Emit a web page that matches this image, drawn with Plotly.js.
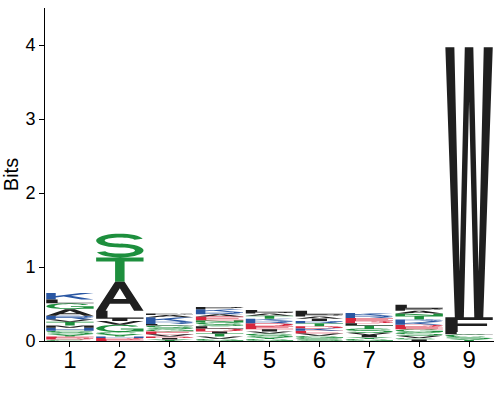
<!DOCTYPE html>
<html>
<head>
<meta charset="utf-8">
<script src="https://cdn.plot.ly/plotly-3.0.1.min.js"></script>
<style>html,body{margin:0;padding:0;background:#fff;}#chart{width:500px;height:400px;}</style>
</head>
<body>
<div id="chart"></div>
<script>
// ---- data: positions, tick labels and per-position letter stacks (bottom -> top, heights in bits)
const positions = [1, 2, 3, 4, 5, 6, 7, 8, 9];
const tickLabels = ['1', '2', '3', '4', '5', '6', '7', '8', '9'];

const pos1Letters = ['C', 'D', 'E', 'Y', 'S', 'H', 'M', 'T', 'V', 'R', 'A', 'G', 'L', 'K'];
const pos1Bits    = [0.02, 0.02, 0.02, 0.03, 0.05, 0.04, 0.03, 0.05, 0.03, 0.05, 0.09, 0.08, 0.05, 0.09];
const pos2Letters = ['E', 'D', 'H', 'Y', 'C', 'G', 'V', 'I', 'L', 'A', 'T', 'S'];
const pos2Bits    = [0.02, 0.02, 0.02, 0.03, 0.03, 0.10, 0.05, 0.03, 0.11, 0.39, 0.33, 0.32];
const pos3Letters = ['Y', 'I', 'D', 'V', 'E', 'G', 'S', 'L', 'R', 'K', 'A', 'P'];
const pos3Bits    = [0.02, 0.02, 0.02, 0.03, 0.04, 0.03, 0.05, 0.02, 0.03, 0.06, 0.03, 0.02];
const pos4Letters = ['G', 'V', 'T', 'I', 'D', 'L', 'S', 'N', 'E', 'A', 'R', 'K', 'P'];
const pos4Bits    = [0.03, 0.03, 0.04, 0.03, 0.04, 0.03, 0.05, 0.03, 0.05, 0.03, 0.03, 0.04, 0.03];
const pos5Letters = ['G', 'Y', 'S', 'V', 'I', 'E', 'D', 'R', 'K', 'T', 'A', 'P', 'L'];
const pos5Bits    = [0.03, 0.02, 0.05, 0.03, 0.03, 0.04, 0.04, 0.03, 0.03, 0.04, 0.03, 0.02, 0.03];
const pos6Letters = ['S', 'G', 'V', 'E', 'K', 'D', 'T', 'R', 'I', 'A', 'P', 'L'];
const pos6Bits    = [0.04, 0.03, 0.03, 0.04, 0.03, 0.03, 0.04, 0.03, 0.03, 0.03, 0.03, 0.05];
const pos7Letters = ['G', 'Y', 'I', 'V', 'S', 'T', 'L', 'D', 'E', 'R', 'K'];
const pos7Bits    = [0.03, 0.02, 0.03, 0.03, 0.06, 0.04, 0.03, 0.03, 0.04, 0.03, 0.04];
const pos8Letters = ['I', 'C', 'V', 'S', 'G', 'E', 'D', 'K', 'R', 'T', 'N', 'A', 'P', 'L'];
const pos8Bits    = [0.02, 0.02, 0.03, 0.05, 0.04, 0.03, 0.03, 0.04, 0.03, 0.05, 0.03, 0.04, 0.03, 0.05];
const pos9Letters = ['Y', 'S', 'C', 'L', 'F', 'W'];
const pos9Bits    = [0.03, 0.02, 0.04, 0.03, 0.20, 3.65];

const stackLetters = [pos1Letters, pos2Letters, pos3Letters, pos4Letters, pos5Letters, pos6Letters, pos7Letters, pos8Letters, pos9Letters];
const stackBits    = [pos1Bits, pos2Bits, pos3Bits, pos4Bits, pos5Bits, pos6Bits, pos7Bits, pos8Bits, pos9Bits];

// ---- style: chemistry colour scheme
const GREEN = '#1d8f3d', BLUE = '#2a57a3', RED = '#d7263d', BLACK = '#1f1f1f';
const colorGroups = { G: GREEN, S: GREEN, T: GREEN, Y: GREEN, C: GREEN, N: GREEN, Q: GREEN,
                      K: BLUE, R: BLUE, H: BLUE, D: RED, E: RED };
function colorOf(L) { return colorGroups[L] || BLACK; }
const LETTER_W = 0.95;
const FONT = 'Liberation Sans, Arial, Helvetica, sans-serif';

// ---- glyph outlines in a unit box
function arcPts(cx, cy, rx, ry, a0, a1, n) {
  const pts = [];
  n = n || 28;
  for (let i = 0; i <= n; i++) {
    const a = (a0 + (a1 - a0) * i / n) * Math.PI / 180;
    pts.push([cx + rx * Math.cos(a), cy + ry * Math.sin(a)]);
  }
  return pts;
}
function sector(cx, cy, rxo, ryo, rxi, ryi, a0, a1) {
  return arcPts(cx, cy, rxo, ryo, a0, a1).concat(arcPts(cx, cy, rxi, ryi, a1, a0));
}
function rect(x0, y0, x1, y1) { return [[x0, y0], [x1, y0], [x1, y1], [x0, y1]]; }
function signedArea(p) {
  let s = 0;
  for (let i = 0; i < p.length; i++) {
    const a = p[i], b = p[(i + 1) % p.length];
    s += a[0] * b[1] - b[0] * a[1];
  }
  return s / 2;
}
function orient(p, ccw) { return (signedArea(p) > 0) === ccw ? p : p.slice().reverse(); }

const GLYPHS = {
  A: { outer: [[[0, 0], [0.2, 0], [0.29, 0.24], [0.71, 0.24], [0.8, 0], [1, 0], [0.6, 1], [0.4, 1]]],
       holes: [[[0.36, 0.4], [0.64, 0.4], [0.5, 0.78]]] },
  C: { outer: [sector(0.5, 0.5, 0.5, 0.5, 0.33, 0.36, 45, 315)] },
  D: { outer: [[[0, 0], [0, 1], [0.45, 1]].concat(arcPts(0.45, 0.5, 0.55, 0.5, 90, -90))],
       holes: [[[0.2, 0.15], [0.45, 0.15]].concat(arcPts(0.45, 0.5, 0.35, 0.35, -90, 90)).concat([[0.2, 0.85]])] },
  E: { outer: [[[0, 0], [0, 1], [1, 1], [1, 0.85], [0.22, 0.85], [0.22, 0.58], [0.9, 0.58], [0.9, 0.43], [0.22, 0.43], [0.22, 0.15], [1, 0.15], [1, 0]]] },
  F: { outer: [[[0, 0], [0, 1], [1, 1], [1, 0.82], [0.26, 0.82], [0.26, 0.58], [0.88, 0.58], [0.88, 0.41], [0.26, 0.41], [0.26, 0]]] },
  G: { outer: [sector(0.5, 0.5, 0.5, 0.5, 0.33, 0.36, 38, 358), rect(0.52, 0.35, 1, 0.5), rect(0.82, 0.08, 1, 0.5)] },
  H: { outer: [[[0, 0], [0, 1], [0.2, 1], [0.2, 0.58], [0.8, 0.58], [0.8, 1], [1, 1], [1, 0], [0.8, 0], [0.8, 0.42], [0.2, 0.42], [0.2, 0]]] },
  I: { outer: [rect(0.34, 0, 0.66, 1)] },
  K: { outer: [[[0, 0], [0, 1], [0.2, 1], [0.2, 0.55], [0.72, 1], [1, 1], [0.52, 0.58], [1, 0], [0.74, 0], [0.37, 0.45], [0.2, 0.32], [0.2, 0]]] },
  L: { outer: [[[0, 0], [0, 1], [0.24, 1], [0.24, 0.16], [1, 0.16], [1, 0]]] },
  M: { outer: [[[0, 0], [0, 1], [0.25, 1], [0.5, 0.3], [0.75, 1], [1, 1], [1, 0], [0.8, 0], [0.8, 0.7], [0.58, 0], [0.42, 0], [0.2, 0.7], [0.2, 0]]] },
  N: { outer: [[[0, 0], [0, 1], [0.2, 1], [0.8, 0.35], [0.8, 1], [1, 1], [1, 0], [0.8, 0], [0.2, 0.65], [0.2, 0]]] },
  P: { outer: [[[0, 0], [0, 1], [0.6, 1]].concat(arcPts(0.6, 0.72, 0.4, 0.28, 90, -90)).concat([[0.2, 0.44], [0.2, 0]])],
       holes: [[[0.2, 0.59], [0.6, 0.59]].concat(arcPts(0.6, 0.72, 0.22, 0.13, -90, 90)).concat([[0.2, 0.85]])] },
  Q: { outer: [arcPts(0.5, 0.5, 0.5, 0.5, 0, 359), [[0.55, 0.3], [0.72, 0.3], [1, 0], [0.82, 0]]],
       holes: [arcPts(0.5, 0.5, 0.33, 0.36, 0, 359)] },
  R: { outer: [[[0, 0], [0, 1], [0.6, 1]].concat(arcPts(0.6, 0.72, 0.4, 0.28, 90, -90)).concat([[0.2, 0.44], [0.2, 0]]),
               [[0.5, 0.46], [0.74, 0.46], [1, 0], [0.76, 0]]],
       holes: [[[0.2, 0.59], [0.6, 0.59]].concat(arcPts(0.6, 0.72, 0.22, 0.13, -90, 90)).concat([[0.2, 0.85]])] },
  S: { outer: [sector(0.5, 0.71, 0.5, 0.29, 0.32, 0.13, 15, 280),
               sector(0.5, 0.29, 0.5, 0.29, 0.32, 0.13, 100, -165)] },
  T: { outer: [[[0, 1], [1, 1], [1, 0.83], [0.6, 0.83], [0.6, 0], [0.4, 0], [0.4, 0.83], [0, 0.83]]] },
  V: { outer: [[[0, 1], [0.21, 1], [0.5, 0.24], [0.79, 1], [1, 1], [0.6, 0], [0.4, 0]]] },
  W: { outer: [[[0, 1], [0.19, 1], [0.3, 0.17], [0.41, 1], [0.59, 1], [0.7, 0.17], [0.81, 1], [1, 1], [0.8, 0], [0.61, 0], [0.5, 0.8], [0.39, 0], [0.2, 0]]] },
  Y: { outer: [[[0, 1], [0.24, 1], [0.5, 0.6], [0.76, 1], [1, 1], [0.6, 0.42], [0.6, 0], [0.4, 0], [0.4, 0.42]]] }
};

// ---- build one filled trace per colour, letters placed through the data axes
const groups = {};
const order = [];
positions.forEach((p, i) => {
  let base = 0;
  stackLetters[i].forEach((L, j) => {
    const h = stackBits[i][j];
    const g = GLYPHS[L];
    const col = colorOf(L);
    if (!groups[col]) { groups[col] = { x: [], y: [] }; order.push(col); }
    const grp = groups[col];
    const addPoly = (poly) => {
      poly.forEach(([gx, gy]) => {
        grp.x.push(p + (gx - 0.5) * LETTER_W);
        grp.y.push(base + gy * h);
      });
      grp.x.push(null); grp.y.push(null);
    };
    g.outer.forEach(poly => addPoly(orient(poly, true)));
    (g.holes || []).forEach(poly => addPoly(orient(poly, false)));
    base += h;
  });
});

const traces = order.map(col => ({
  type: 'scatter', mode: 'lines', x: groups[col].x, y: groups[col].y,
  fill: 'toself', fillcolor: col, line: { width: 0, color: col, simplify: false },
  hoverinfo: 'skip', showlegend: false
}));

const layout = {
  width: 500, height: 400,
  margin: { l: 45, r: 6, t: 8, b: 59 },
  paper_bgcolor: '#ffffff', plot_bgcolor: '#ffffff',
  showlegend: false,
  font: { family: FONT, color: '#000' },
  xaxis: {
    range: [0.5, 9.5], tickmode: 'array', tickvals: positions, ticktext: tickLabels,
    showline: true, linecolor: '#000', linewidth: 1, ticks: 'outside', ticklen: 5, tickwidth: 1, tickcolor: '#000',
    ticklabelstandoff: -8,
    showgrid: false, zeroline: false, tickfont: { family: FONT, size: 24, color: '#000' }, fixedrange: true
  },
  yaxis: {
    range: [0, 4.5], tickmode: 'array', tickvals: [0, 1, 2, 3, 4],
    showline: true, linecolor: '#000', linewidth: 1, ticks: 'outside', ticklen: 5, tickwidth: 1, tickcolor: '#000',
    showgrid: false, zeroline: false, tickfont: { family: FONT, size: 18, color: '#000' },
    title: { text: 'Bits', font: { family: FONT, size: 20, color: '#000' }, standoff: 4 }, fixedrange: true
  }
};

Plotly.newPlot('chart', traces, layout, { displayModeBar: false, staticPlot: true });
</script>
</body>
</html>
